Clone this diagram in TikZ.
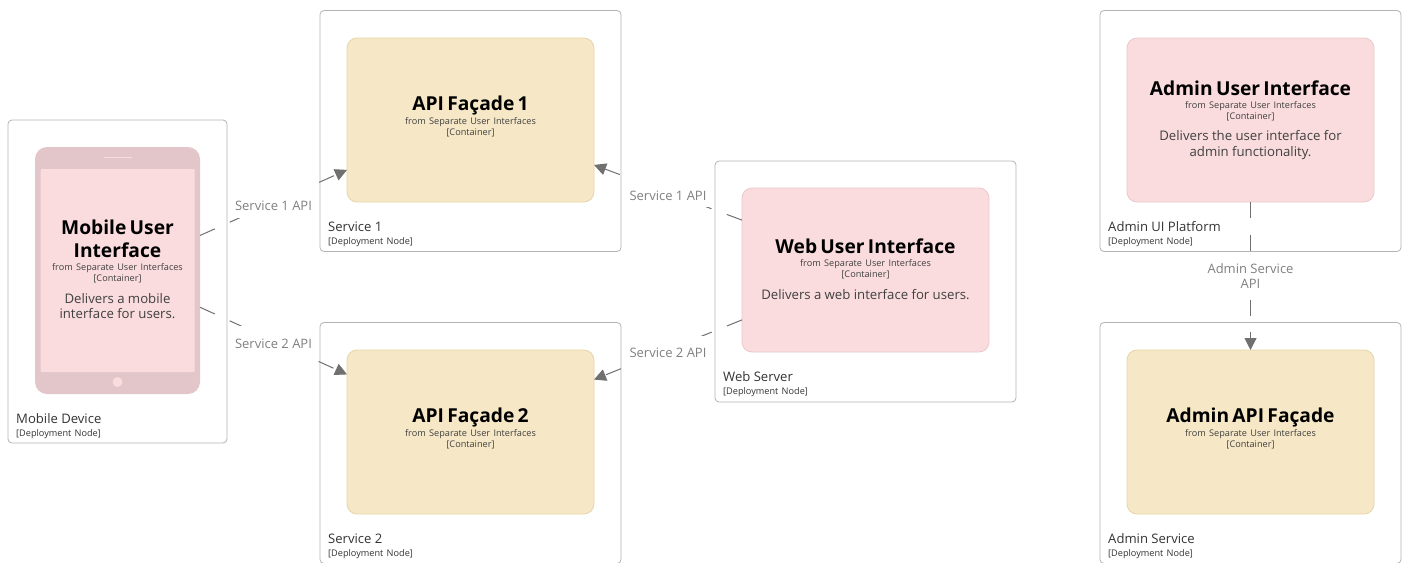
\documentclass[tikz,border=0pt]{standalone}
\usepackage{fontspec}
\setmainfont{Open Sans}
\usepackage{tikz}
\usetikzlibrary{arrows.meta}
\usetikzlibrary{positioning}
\definecolor{pinkfill}{HTML}{FADCDE}
\definecolor{pinkline}{HTML}{EBC8CB}
\definecolor{yellowfill}{HTML}{F6E8C6}
\definecolor{yellowline}{HTML}{E6D6A6}
\definecolor{devicefill}{HTML}{E2C6C9}
\definecolor{boxline}{HTML}{B4B4B4}
\definecolor{connline}{HTML}{707070}
\definecolor{connlabel}{HTML}{808080}
\newcommand{\ctitle}[1]{{\fontsize{19.2}{23}\selectfont\bfseries #1\par}}
\newcommand{\csub}[1]{{\vskip 2pt\fontsize{9.15}{11}\selectfont\color{black!75} #1\par}}
\newcommand{\cdesc}[1]{{\vskip 6pt\fontsize{13.2}{15.5}\selectfont\color{black!75} #1\par}}
\newcommand{\cpad}[1]{\vskip #1\nointerlineskip\hbox{}}
\newcommand{\dname}[1]{{\fontsize{13.1}{14}\selectfont #1\par}}
\newcommand{\dsub}{{\fontsize{9.15}{13}\selectfont [Deployment Node]\par}}
\tikzset{
	deployment/.style={draw=boxline, fill=white, rounded corners=4pt, line width=0.8pt, minimum width=301pt, minimum height=241pt, outer sep=0pt},
	container/.style={rounded corners=10pt, line width=0.8pt, minimum width=247pt, minimum height=164pt, outer sep=0pt, align=center, text width=235pt},
	pinkbox/.style={container, draw=pinkline, fill=pinkfill},
	yellowbox/.style={container, draw=yellowline, fill=yellowfill},
	deploylabel/.style={anchor=south west, align=left, inner sep=0pt, text width=200pt, text=black!80},
	conn/.style={draw=connline, line width=1pt, dash pattern=on 16.3pt off 16.3pt, -{Triangle[length=12pt,width=12pt]}},
	connname/.style={midway, fill=white, text=connlabel, align=center, inner xsep=5pt, inner ysep=0pt, minimum height=28pt, font=\fontsize{13}{15.5}\selectfont},
	connleft/.style={connname, minimum height=30pt, text height=15pt, text depth=0pt},
	connright/.style={connname, text height=16.5pt, text depth=0pt},
}
\begin{document}
\begin{tikzpicture}[x=1pt,y=-1pt]
	\useasboundingbox (0,0) rectangle (1407,562);
	% deployment nodes
	\node[deployment, minimum width=219pt, minimum height=323pt] (mobilenode) at (117.5,281.5) {};
	\node[deployment] (serviceone) at (470.5,131) {};
	\node[deployment] (servicetwo) at (470.5,443) {};
	\node[deployment] (webnode) at (865.5,281.5) {};
	\node[deployment] (adminnode) at (1250.5,131) {};
	\node[deployment] (adminservice) at (1250.5,443) {};
	%
	\node[deploylabel] (mobilelabel) at (16,439) {\dname{Mobile Device}\dsub};
	\node[deploylabel] (serviceonelabel) at (328,247) {\dname{Service 1}\dsub};
	\node[deploylabel] (servicetwolabel) at (328,559) {\dname{Service 2}\dsub};
	\node[deploylabel] (weblabel) at (723,397) {\dname{Web Server}\dsub};
	\node[deploylabel] (adminlabel) at (1108,247) {\dname{Admin UI Platform}\dsub};
	\node[deploylabel] (adminservicelabel) at (1108,559) {\dname{Admin Service}\dsub};
	% mobile device
	\node[rounded corners=12pt, fill=devicefill, minimum width=165pt, minimum height=247pt, outer sep=0pt] (device) at (117.5,270.5) {};
	\node[fill=pinkfill, rounded corners=1pt, minimum width=154pt, minimum height=203pt, text width=142pt, align=center] (mobile) at (117.5,270.5) {\ctitle{Mobile User Interface}\csub{from Separate User Interfaces\\{}[Container]}\cdesc{Delivers a mobile interface for users.}\cpad{2pt}};
	\node[fill=pinkfill, circle, minimum size=10pt, inner sep=0pt] (homebutton) at (117.5,382) {};
	\coordinate (speakerl) at (104,157);
	\coordinate (speakerr) at (132,157);
	\draw[pinkfill, line width=0.8pt] (speakerl) -- (speakerr);
	% containers
	\node[yellowbox] (apione) at (470.5,120) {\ctitle{API Façade 1}\csub{from Separate User Interfaces\\{}[Container]}\cpad{7pt}};
	\node[yellowbox] (apitwo) at (470.5,432) {\ctitle{API Façade 2}\csub{from Separate User Interfaces\\{}[Container]}\cpad{7pt}};
	\node[pinkbox] (webui) at (865.5,270) {\ctitle{Web User Interface}\csub{from Separate User Interfaces\\{}[Container]}\cdesc{Delivers a web interface for users.}\cpad{2pt}};
	\node[pinkbox] (adminui) at (1250.5,120) {\ctitle{Admin User Interface}\csub{from Separate User Interfaces\\{}[Container]}\cdesc{Delivers the user interface for\\admin functionality.}};
	\node[yellowbox] (adminapi) at (1250.5,432) {\ctitle{Admin API Façade}\csub{from Separate User Interfaces\\{}[Container]}\cpad{7pt}};
	% connectors
	\draw[conn] (device.23.3) -- node[connleft] {Service 1 API} (apione.202.8);
	\draw[conn] (device.-24.4) -- node[connleft] {Service 2 API} (apitwo.155.3);
	\draw[conn] (webui.158.8) -- node[connright] {Service 1 API} (apione.-20.5);
	\draw[conn] (webui.202) -- node[connright] {Service 2 API} (apitwo.23.7);
	\draw[conn] (adminui.south) -- node[connname, yshift=-0.3pt] {Admin Service\\API} (adminapi.north);
\end{tikzpicture}
\end{document}
